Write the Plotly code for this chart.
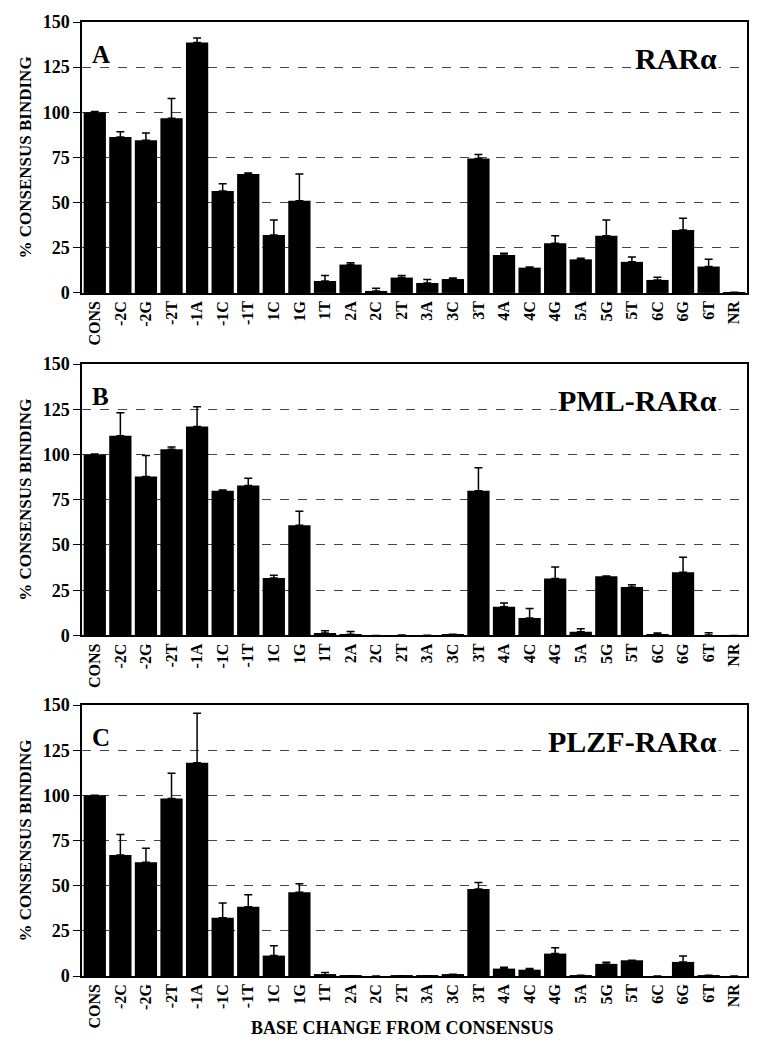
import plotly.graph_objects as go
from plotly.subplots import make_subplots

# base change sites along the x axis
sites = ["CONS", "-2C", "-2G", "-2T", "-1A", "-1C", "-1T", "1C", "1G", "1T",
         "2A", "2C", "2T", "3A", "3C", "3T", "4A", "4C", "4G", "5A",
         "5G", "5T", "6C", "6G", "6T", "NR"]

# % consensus binding
rara = [100, 86.3, 84.5, 96.7, 138.7, 56.5, 65.9, 32.1, 51.1, 6.6,
        15.7, 1.1, 8.5, 5.5, 7.7, 74.4, 21.0, 14.0, 27.5, 18.6,
        31.7, 17.2, 7.2, 34.9, 14.6, 0.4]
rara_err = [0.5, 3.0, 4.0, 11.0, 2.5, 4.0, 0.5, 8.3, 14.8, 3.0,
            1.0, 1.5, 1.1, 2.0, 0.6, 2.2, 1.0, 0.3, 4.2, 0.6,
            8.7, 2.7, 1.5, 6.4, 4.0, 0]

pml_rara = [100, 110.3, 87.8, 102.9, 115.5, 79.9, 82.8, 31.7, 60.9, 1.3,
            0.6, 0, 0.2, 0.1, 0.4, 79.9, 15.9, 9.6, 31.4, 2.0,
            32.7, 26.8, 0.6, 34.9, 0.2, 0]
pml_rara_err = [0.3, 12.7, 11.6, 1.3, 10.9, 0.5, 4.1, 1.5, 7.7, 1.3,
                1.6, 0, 0, 0, 0.2, 12.7, 2.0, 5.3, 6.4, 1.7,
                0.2, 1.2, 0.7, 8.3, 1.3, 0]

plzf_rara = [100, 67.0, 63.0, 98.3, 118.1, 32.2, 38.3, 11.3, 46.3, 0.6,
             0.2, 0, 0.2, 0.2, 0.7, 48.1, 4.1, 3.5, 12.4, 0.4,
             6.7, 8.7, 0, 7.8, 0.4, 0]
plzf_rara_err = [0, 11.3, 7.7, 13.9, 27.3, 8.2, 6.7, 5.4, 4.8, 1.3,
                 0, 0, 0, 0, 0.3, 3.6, 0.7, 0.7, 3.2, 0,
                 0.9, 0, 0, 3.3, 0, 0]

panels = [
    ("A", "RARα", rara, rara_err),
    ("B", "PML-RARα", pml_rara, pml_rara_err),
    ("C", "PLZF-RARα", plzf_rara, plzf_rara_err),
]

serif = "Liberation Serif, Times New Roman, serif"

fig = make_subplots(rows=3, cols=1)

for i, (letter, name, vals, errs) in enumerate(panels, start=1):
    fig.add_trace(
        go.Bar(
            x=sites,
            y=vals,
            marker_color="black",
            marker_line_width=0,
            error_y=dict(
                type="data",
                symmetric=False,
                array=errs,
                arrayminus=[0] * len(errs),
                color="black",
                thickness=1.5,
                width=4,
            ),
            showlegend=False,
        ),
        row=i, col=1,
    )

    xref = "x domain" if i == 1 else f"x{i} domain"
    yref = "y" if i == 1 else f"y{i}"
    # panel letter, top left
    fig.add_annotation(
        text=letter, xref=xref, yref=yref, x=0.012, y=132,
        xanchor="left", yanchor="middle", showarrow=False,
        font=dict(family=serif, size=25, color="black", weight="bold"),
    )
    # receptor name, top right
    fig.add_annotation(
        text=name, xref=xref, yref=yref, x=0.958, y=130,
        xanchor="right", yanchor="middle", showarrow=False,
        bgcolor="white",
        font=dict(family=serif, size=30, color="black", weight="bold"),
    )

# panel positions
domains = [[0.716, 1.0], [0.357, 0.6415], [0.0, 0.284]]
for i, dom in enumerate(domains, start=1):
    fig.update_yaxes(
        domain=dom, range=[0, 150], tickvals=[0, 25, 50, 75, 100, 125, 150],
        ticks="outside", ticklen=7, tickcolor="black", automargin=False,
        showgrid=True, gridcolor="#444444", griddash="dash", gridwidth=1,
        showline=True, linecolor="black", linewidth=1.5, mirror=True,
        zeroline=False,
        tickfont=dict(family=serif, size=18, color="black", weight="bold"),
        title=dict(text="% CONSENSUS BINDING", standoff=7,
                   font=dict(family=serif, size=17, color="black", weight="bold")),
        row=i, col=1,
    )
    fig.update_xaxes(
        tickangle=-90, showgrid=False, automargin=False,
        showline=True, linecolor="black", linewidth=1.5, mirror=True,
        tickfont=dict(family=serif, size=16, color="black", weight="bold"),
        row=i, col=1,
    )

# shared x-axis caption under the last panel
fig.add_annotation(
    text="BASE CHANGE FROM CONSENSUS", xref="x3 domain", yref="paper",
    x=0.482, y=-0.0545, xanchor="center", yanchor="middle", showarrow=False,
    font=dict(family=serif, size=18, color="black", weight="bold"),
)

fig.update_layout(
    width=757, height=1050,
    margin=dict(l=82, r=10, t=22, b=74),
    bargap=0.13,
    plot_bgcolor="white",
    paper_bgcolor="white",
)

fig.write_html("out.html", config={"displayModeBar": False},
               post_script="document.body.style.margin='0';")
